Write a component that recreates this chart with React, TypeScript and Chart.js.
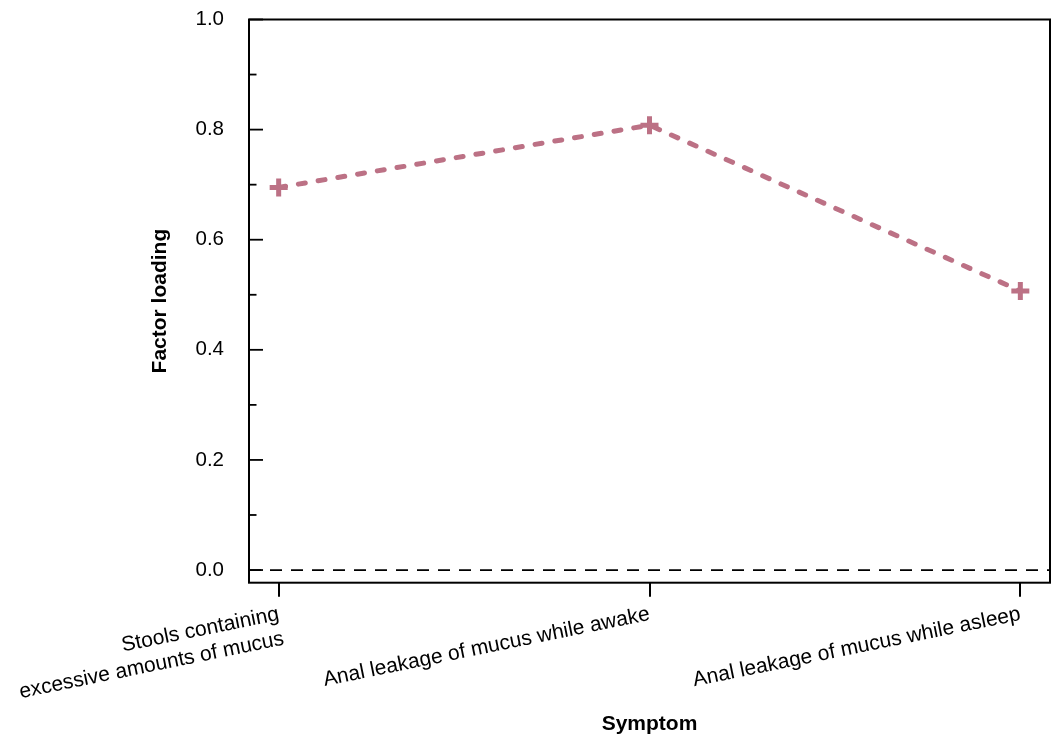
import React, { useEffect, useRef } from 'react';
import { Chart, registerables } from 'chart.js';

Chart.register(...registerables);

const categories: string[][] = [
  ['Stools containing', 'excessive amounts of mucus'],
  ['Anal leakage of mucus while awake'],
  ['Anal leakage of mucus while asleep'],
];
const factorLoadings: number[] = [0.695, 0.808, 0.507];
const yTickValues: number[] = [0, 0.1, 0.2, 0.3, 0.4, 0.5, 0.6, 0.7, 0.8, 0.9, 1.0];
const yLabelledTicks: number[] = [0, 0.2, 0.4, 0.6, 0.8, 1.0];
const xTitle = 'Symptom';
const yTitle = 'Factor loading';

const FONT = "'Liberation Sans', Arial, Helvetica, sans-serif";
const LINE_COLOR = 'rgb(188, 113, 133)';

const framePlugin = {
  id: 'frame',
  beforeDatasetsDraw(chart: any) {
    const { ctx, chartArea: a, scales } = chart;
    const y0 = scales.y.getPixelForValue(0);
    ctx.save();
    ctx.strokeStyle = '#000';
    ctx.lineWidth = 1.8;
    ctx.setLineDash([12, 9]);
    ctx.beginPath();
    ctx.moveTo(a.left, y0);
    ctx.lineTo(a.right, y0);
    ctx.stroke();
    ctx.restore();
  },
  afterDraw(chart: any) {
    const { ctx, chartArea: a, scales } = chart;
    ctx.save();
    ctx.strokeStyle = '#000';
    ctx.lineWidth = 2;
    ctx.strokeRect(a.left, a.top, a.right - a.left, a.bottom - a.top);
    ctx.lineWidth = 1.8;
    yTickValues.forEach((v) => {
      const py = scales.y.getPixelForValue(v);
      const major = yLabelledTicks.some((m) => Math.abs(m - v) < 1e-9);
      ctx.beginPath();
      ctx.moveTo(a.left, py);
      ctx.lineTo(a.left + (major ? 14 : 7.5), py);
      ctx.stroke();
    });
    ctx.restore();
  },
};

export default function App() {
  const canvasRef = useRef<HTMLCanvasElement | null>(null);

  useEffect(() => {
    if (!canvasRef.current) return;
    const chart = new Chart(canvasRef.current, {
      type: 'line',
      data: {
        datasets: [
          {
            data: factorLoadings.map((v, i) => ({ x: i, y: v })),
            borderColor: LINE_COLOR,
            backgroundColor: LINE_COLOR,
            borderWidth: 5,
            borderDash: [7, 13],
            borderCapStyle: 'round',
            pointStyle: 'cross',
            pointRadius: 9,
            pointBorderWidth: 5,
            pointBorderColor: LINE_COLOR,
            fill: false,
            tension: 0,
            clip: false,
          } as any,
        ],
      },
      options: {
        animation: false,
        responsive: true,
        maintainAspectRatio: false,
        layout: { autoPadding: false, padding: { top: 19.5, left: 140, right: 3, bottom: 0 } },
        plugins: { legend: { display: false }, tooltip: { enabled: false } },
        scales: {
          x: {
            type: 'linear',
            min: -0.08,
            max: 2.08,
            afterBuildTicks: (scale: any) => {
              scale.ticks = categories.map((_, i) => ({ value: i }));
            },
            afterFit: (scale: any) => {
              scale.height = 155.3;
              scale.paddingLeft = 0;
              scale.paddingRight = 0;
            },
            grid: {
              display: true,
              drawOnChartArea: false,
              drawTicks: true,
              tickLength: 14,
              color: '#000',
              lineWidth: 2,
            },
            border: { display: false },
            ticks: {
              autoSkip: false,
              minRotation: 11.5,
              maxRotation: 11.5,
              padding: 5,
              color: '#000',
              font: { family: FONT, size: 21 },
              callback: (value: any) => {
                const lab = categories[Math.round(Number(value))];
                if (!lab) return '';
                return lab.length === 1 ? lab[0] : lab;
              },
            },
            title: {
              display: true,
              text: xTitle,
              color: '#000',
              font: { family: FONT, size: 21, weight: 'bold' },
              padding: { top: 0, bottom: 1.4 },
            },
          },
          y: {
            type: 'linear',
            min: -0.023,
            max: 1.0,
            afterBuildTicks: (scale: any) => {
              scale.ticks = yTickValues.map((v) => ({ value: v }));
            },
            afterFit: (scale: any) => {
              scale.width = 109;
              scale.paddingTop = 0;
              scale.paddingBottom = 0;
            },
            grid: { display: false, drawTicks: false },
            border: { display: false },
            ticks: {
              padding: 25,
              color: '#000',
              font: { family: FONT, size: 20.5 },
              callback: (value: any) => {
                const v = Number(value);
                return yLabelledTicks.some((m) => Math.abs(m - v) < 1e-9) ? v.toFixed(1) : '';
              },
            },
            title: {
              display: true,
              text: yTitle,
              color: '#000',
              font: { family: FONT, size: 21, weight: 'bold' },
              padding: { top: 7.4, bottom: 0 },
            },
          },
        },
      } as any,
      plugins: [framePlugin],
    });
    return () => chart.destroy();
  }, []);

  return (
    <div style={{ position: 'fixed', left: 0, top: 0, width: 1053, height: 738, background: '#fff' }}>
      <canvas ref={canvasRef} />
    </div>
  );
}
